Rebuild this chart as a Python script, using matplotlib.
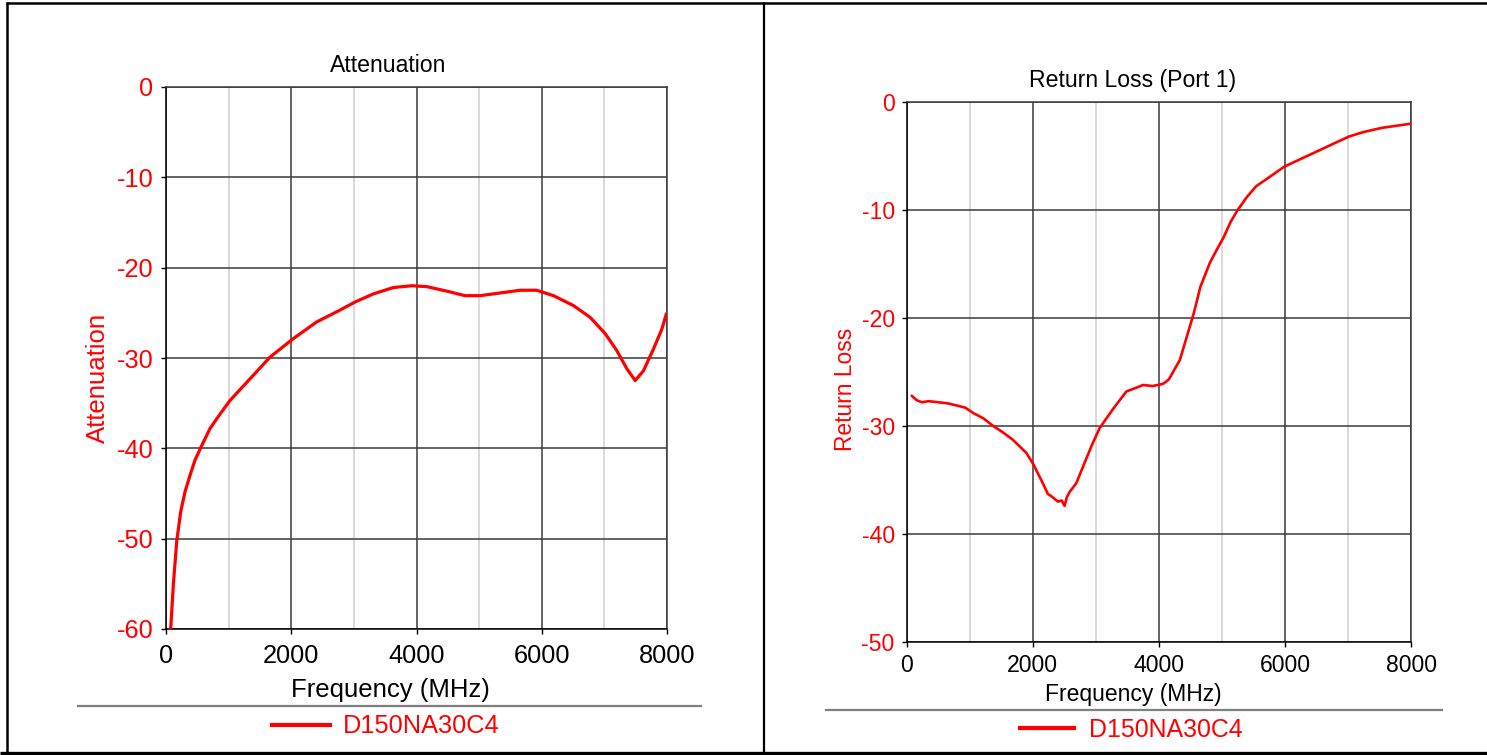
import matplotlib
matplotlib.use("Agg")
import matplotlib.pyplot as plt
from matplotlib.lines import Line2D
from matplotlib.ticker import MultipleLocator

plt.rcParams['font.family'] = ['Liberation Sans', 'DejaVu Sans']
plt.rcParams['axes.unicode_minus'] = False

# ------------------------------------------------------------
# Data
# ------------------------------------------------------------
att_freq = [64, 75, 117, 171, 235, 304, 383, 463, 570, 703, 863, 1022,
            1289, 1661, 2024, 2407, 2750, 3019, 3312, 3631, 3925, 4165,
            4484, 4776, 5016, 5335, 5655, 5921, 6187, 6507, 6773, 7013,
            7200, 7360, 7492, 7625, 7784, 7918, 7990]
att_db = [-60.0, -60.0, -55.1, -50.3, -47.0, -44.8, -43.0, -41.3, -39.7,
          -37.8, -36.2, -34.7, -32.7, -29.9, -27.9, -26.0, -24.8, -23.8,
          -22.9, -22.2, -22.0, -22.1, -22.6, -23.1, -23.1, -22.8, -22.5,
          -22.5, -23.1, -24.2, -25.5, -27.3, -29.2, -31.2, -32.5, -31.4,
          -29.0, -26.8, -25.1]

rl_freq = [82, 160, 241, 350, 504, 650, 795, 930, 1058, 1220, 1374, 1530,
           1690, 1900, 2015, 2160, 2240, 2295, 2400, 2460, 2505, 2540,
           2585, 2690, 2850, 2950, 3060, 3275, 3485, 3620, 3750, 3900,
           4065, 4155, 4330, 4550, 4657, 4806, 4914, 5027, 5136, 5247,
           5393, 5540, 5763, 5982, 6273, 6495, 6788, 7010, 7229, 7525,
           8000]
rl_db = [-27.2, -27.6, -27.8, -27.7, -27.8, -27.9, -28.1, -28.3, -28.8,
         -29.3, -30.0, -30.6, -31.3, -32.5, -33.6, -35.3, -36.3, -36.5,
         -37.0, -36.9, -37.4, -36.6, -36.1, -35.3, -33.0, -31.6, -30.2,
         -28.4, -26.8, -26.5, -26.2, -26.3, -26.1, -25.7, -23.9, -19.6,
         -17.1, -14.9, -13.7, -12.5, -11.1, -10.0, -8.8, -7.8, -6.9, -6.0,
         -5.2, -4.6, -3.8, -3.2, -2.8, -2.4, -2.0]

legend_name = "D150NA30C4"
RED = "#FF0000"

W, H = 1487, 755


def fx(px):
    return px / W


def fy(py):
    return 1 - py / H


fig = plt.figure(figsize=(W / 100, H / 100), dpi=100)


def draw_panel(box, freq, db, ymin, fs, lw, xpad, ypad):
    x0, y0, x1, y1 = box
    ax = fig.add_axes([fx(x0), fy(y1), (x1 - x0) / W, (y1 - y0) / H])
    ax.plot(freq, db, color=RED, lw=lw, solid_capstyle='round',
            solid_joinstyle='round', zorder=5)
    ax.set_xlim(0, 8000)
    ax.set_ylim(ymin, 0)
    ax.xaxis.set_major_locator(MultipleLocator(2000))
    ax.xaxis.set_minor_locator(MultipleLocator(1000))
    ax.yaxis.set_major_locator(MultipleLocator(10))
    ax.grid(which='major', color='#3a3a3a', lw=1.1)
    ax.grid(which='minor', axis='x', color='#cfcfcf', lw=1.1)
    ax.tick_params(which='major', length=3.5, width=1, color='black',
                   labelsize=fs, direction='out')
    ax.tick_params(axis='x', pad=xpad, labelcolor='black')
    ax.tick_params(axis='y', pad=ypad, labelcolor=RED)
    ax.tick_params(which='minor', length=0)
    for side in ['top', 'right']:
        ax.spines[side].set_color('#3a3a3a')
    for side in ['left', 'bottom']:
        ax.spines[side].set_color('black')
    for sp in ax.spines.values():
        sp.set_linewidth(1.1)
    return ax


# ------------------------------------------------------------
# Left panel: Attenuation
# ------------------------------------------------------------
draw_panel((166, 87, 667, 629), att_freq, att_db, -60, 18.3, 2.3, 7, 5.5)
fig.text(fx(388), fy(65), "Attenuation", fontsize=16.6, ha='center',
         va='center', color='black')
fig.text(fx(390), fy(697), "Frequency (MHz)", fontsize=18.5, ha='center',
         va='baseline', color='black')
fig.text(fx(98), fy(378), "Attenuation", fontsize=18.5, ha='center',
         va='center', rotation=90, color=RED)

# ------------------------------------------------------------
# Right panel: Return Loss
# ------------------------------------------------------------
draw_panel((906.5, 102, 1411.4, 642), rl_freq, rl_db, -50, 16.6, 1.9, 5, 5)
fig.text(fx(1133), fy(81), "Return Loss (Port 1)", fontsize=16.6,
         ha='center', va='center', color='black')
fig.text(fx(1133.5), fy(700.5), "Frequency (MHz)", fontsize=16.5,
         ha='center', va='baseline', color='black')
fig.text(fx(845), fy(389), "Return Loss", fontsize=16.4, ha='center',
         va='center', rotation=90, color=RED)

# ------------------------------------------------------------
# Legend strips under each chart
# ------------------------------------------------------------
fig.add_artist(Line2D([fx(78), fx(701)], [fy(706), fy(706)],
                      color='#7f7f7f', lw=1.6))
fig.add_artist(Line2D([fx(272), fx(330)], [fy(724.5), fy(724.5)],
                      color=RED, lw=3))
fig.text(fx(343), fy(733), legend_name, fontsize=18.3, ha='left',
         va='baseline', color=RED)

fig.add_artist(Line2D([fx(826), fx(1442)], [fy(710), fy(710)],
                      color='#7f7f7f', lw=1.6))
fig.add_artist(Line2D([fx(1020), fx(1074)], [fy(728), fy(728)],
                      color=RED, lw=3))
fig.text(fx(1089), fy(737), legend_name, fontsize=17.9, ha='left',
         va='baseline', color=RED)

# ------------------------------------------------------------
# Table frame around the two charts
# ------------------------------------------------------------
frame = dict(color='black', solid_capstyle='butt')
fig.add_artist(Line2D([fx(6), fx(W)], [fy(2.5), fy(2.5)], lw=1.8, **frame))
fig.add_artist(Line2D([fx(7), fx(7)], [fy(2), fy(753)], lw=1.8, **frame))
fig.add_artist(Line2D([fx(763.5), fx(763.5)], [fy(2), fy(753)], lw=1.6,
                      **frame))
fig.add_artist(Line2D([0, 1], [fy(752.5), fy(752.5)], lw=2.4, **frame))

fig.savefig("out.png", dpi=100)
plt.close(fig)
